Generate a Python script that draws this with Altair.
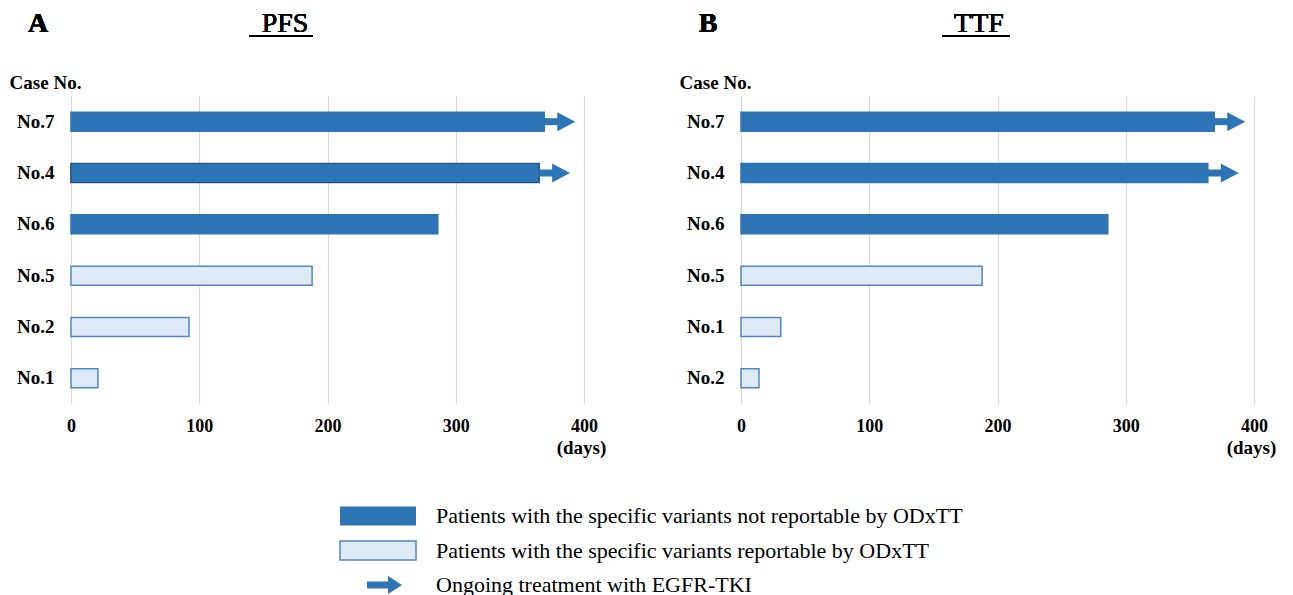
import altair as alt
import pandas as pd

# ---------------- data ----------------
pfs_cases = ["No.7", "No.4", "No.6", "No.5", "No.2", "No.1"]
pfs_days = [369, 365, 286, 188, 92, 21]
pfs_group = ["not", "not", "not", "rep", "rep", "rep"]
pfs_ongoing = [True, True, False, False, False, False]

ttf_cases = ["No.7", "No.4", "No.6", "No.5", "No.1", "No.2"]
ttf_days = [369, 364, 286, 188, 31, 14]
ttf_group = ["not", "not", "not", "rep", "rep", "rep"]
ttf_ongoing = [True, True, False, False, False, False]

x_ticks = [0, 100, 200, 300, 400]

legend_items = ["not", "rep", "arrow"]
legend_labels = [
    "Patients with the specific variants not reportable by ODxTT",
    "Patients with the specific variants reportable by ODxTT",
    "Ongoing treatment with EGFR-TKI",
]

DARK = "#2E75B6"
LIGHT = "#DEEBF7"
LIGHT_STROKE = "#4F87C6"
GRID = "#D9D9D9"
FONT = "Liberation Serif"

W, H = 513, 308


def panel(cases, days, group, ongoing, letter, title, title_x, ul_x1, ul_x2, outlined=None):
    df = pd.DataFrame({"case": cases, "days": days, "group": group, "ongoing": ongoing})
    base = alt.Chart(df)
    yenc = alt.Y(
        "case:N",
        sort=cases,
        scale=alt.Scale(paddingInner=0.63, paddingOuter=0.315),
        axis=alt.Axis(
            title="Case No.",
            titleAngle=0,
            titleAlign="center",
            titleBaseline="alphabetic",
            titleX=-26,
            titleY=-8,
            titleFont=FONT,
            titleFontSize=19,
            titleFontWeight="bold",
            titleColor="black",
            labelFont=FONT,
            labelFontSize=19,
            labelFontWeight="bold",
            labelColor="black",
            labelPadding=17,
            ticks=False,
            domain=False,
            grid=False,
        ),
    )
    xenc = alt.X(
        "days:Q",
        scale=alt.Scale(domain=[0, 400], nice=False),
        axis=alt.Axis(
            values=x_ticks,
            grid=True,
            gridColor=GRID,
            gridWidth=1.2,
            ticks=False,
            domain=False,
            labelFlush=False,
            labelFont=FONT,
            labelFontSize=18,
            labelFontWeight="bold",
            labelColor="black",
            labelPadding=13,
            title="(days)",
            titleX=510,
            titleY=43,
            titleAlign="center",
            titleBaseline="middle",
            titleFont=FONT,
            titleFontSize=19,
            titleFontWeight="bold",
            titleColor="black",
        ),
    )
    bars = base.mark_bar(strokeWidth=1.5).encode(
        x=xenc,
        y=yenc,
        fill=alt.Fill("group:N", scale=alt.Scale(domain=["not", "rep"], range=[DARK, LIGHT]), legend=None),
        stroke=alt.Stroke("group:N", scale=alt.Scale(domain=["not", "rep"], range=[DARK, LIGHT_STROKE]), legend=None),
    )
    layers = [bars]
    if outlined:
        layers.append(
            base.transform_filter(alt.datum.case == outlined)
            .mark_bar(filled=False, stroke="#1F4E79", strokeWidth=1.2)
            .encode(x="days:Q", y=alt.Y("case:N", sort=cases))
        )
    arrows = base.transform_filter("datum.ongoing")
    shaft = arrows.mark_rule(strokeWidth=7, color=DARK, x2Offset=15).encode(
        x="days:Q", x2="days:Q", y=alt.Y("case:N", sort=cases)
    )
    head = arrows.mark_point(
        shape="M -1 -1.06 L 1 0 L -1 1.06 Z", size=324, filled=True, opacity=1, color=DARK, xOffset=22
    ).encode(x="days:Q", y=alt.Y("case:N", sort=cases))
    layers += [shaft, head]

    letter_t = base.mark_text(
        text=letter, font=FONT, fontSize=28, fontWeight="bold", align="center", baseline="alphabetic", color="black"
    ).encode(x=alt.value(-33), y=alt.value(-64))
    title_t = base.mark_text(
        text=title, font=FONT, fontSize=28, fontWeight="normal", align="center", baseline="alphabetic", color="black"
    ).encode(x=alt.value(title_x), y=alt.value(-64))
    underline = base.mark_rule(strokeWidth=2, color="black").encode(
        x=alt.value(ul_x1), x2=alt.value(ul_x2), y=alt.value(-60)
    )
    layers += [letter_t, title_t, underline]
    return alt.layer(*layers).properties(width=W, height=H)


pA = panel(pfs_cases, pfs_days, pfs_group, pfs_ongoing, "A", "PFS", 214, 178, 242, outlined="No.4")
pB = panel(ttf_cases, ttf_days, ttf_group, ttf_ongoing, "B", "TTF", 238, 201, 269)

ldf = pd.DataFrame({"item": legend_items, "label": legend_labels})
lbase = alt.Chart(ldf)
ly = alt.Y("item:N", sort=legend_items, scale=alt.Scale(type="point", padding=0), axis=None)
l_dark = lbase.transform_filter(alt.datum.item == "not").mark_bar(size=19, color=DARK).encode(
    x=alt.value(269), x2=alt.value(345), y=ly
)
l_light = lbase.transform_filter(alt.datum.item == "rep").mark_bar(
    size=19, fill=LIGHT, stroke=LIGHT_STROKE, strokeWidth=1.5
).encode(x=alt.value(269), x2=alt.value(345), y=ly)
l_shaft = lbase.transform_filter(alt.datum.item == "arrow").mark_rule(strokeWidth=7, color=DARK).encode(
    x=alt.value(296), x2=alt.value(319), y=ly
)
l_head = lbase.transform_filter(alt.datum.item == "arrow").mark_point(
    shape="M -1 -1.3 L 1 0 L -1 1.3 Z", size=196, filled=True, opacity=1, color=DARK
).encode(x=alt.value(324), y=ly)
l_text = lbase.mark_text(font=FONT, fontSize=22, align="left", baseline="middle", color="black").encode(
    x=alt.value(365), y=ly, text="label:N"
)
legend = alt.layer(l_dark, l_light, l_shaft, l_head, l_text).properties(width=900, height=69)

chart = (
    alt.vconcat(alt.hconcat(pA, pB, spacing=73), legend, spacing=48)
    .properties(padding={"left": 1, "top": 2, "right": 0, "bottom": 0})
    .configure_view(stroke=None)
)

chart.save("out.html", embed_options={"renderer": "svg", "actions": False})
